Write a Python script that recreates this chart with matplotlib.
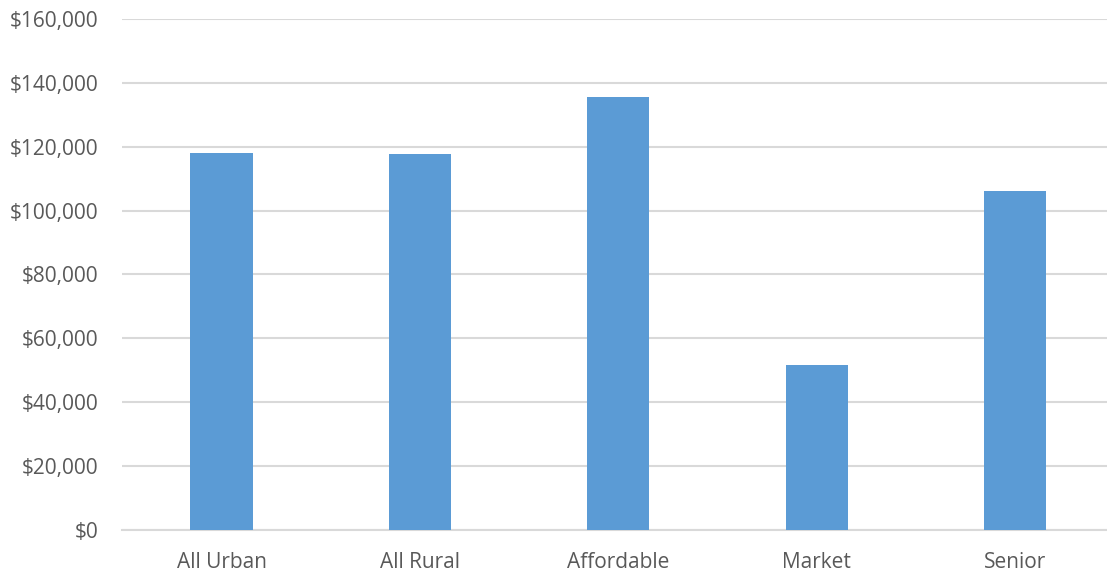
import matplotlib.pyplot as plt
from matplotlib.ticker import FuncFormatter

# data
categories = ['All Urban', 'All Rural', 'Affordable', 'Market', 'Senior']
values = [118000, 117600, 135500, 51700, 106200]
yticks = [0, 20000, 40000, 60000, 80000, 100000, 120000, 140000, 160000]

plt.rcParams['font.family'] = ['Open Sans', 'DejaVu Sans']

fig = plt.figure(figsize=(11.07, 5.74), dpi=100)
# plot area runs a little past the right edge, as in the original
ax = fig.add_axes([0.1105, 0.0767, 0.8961, 0.8903])

x = range(len(categories))
ax.bar(x, values, width=0.314, color='#5B9BD5', zorder=3)

ax.set_xlim(-0.5, len(categories) - 0.5)
ax.set_ylim(0, 160000)
ax.set_yticks(yticks)
ax.yaxis.set_major_formatter(FuncFormatter(lambda v, p: f'${v:,.0f}'))
ax.set_xticks(list(x))
ax.set_xticklabels(categories)

ax.grid(axis='y', color='#D9D9D9', linewidth=1.5, zorder=0)
for s in ['top', 'right', 'left']:
    ax.spines[s].set_visible(False)
ax.spines['bottom'].set_color('#D9D9D9')
ax.spines['bottom'].set_linewidth(1.5)
ax.tick_params(axis='both', length=0, labelsize=15, colors='#595959')
ax.tick_params(axis='y', pad=17)
ax.tick_params(axis='x', pad=16)

fig.savefig('out.png', dpi=100)
